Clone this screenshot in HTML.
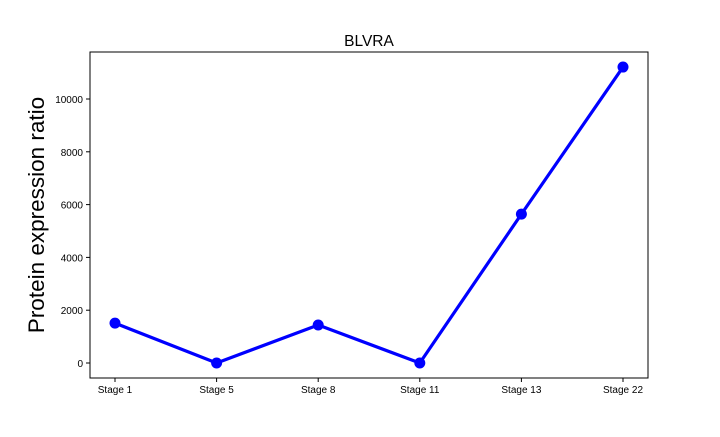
<!DOCTYPE html>
<html><head><meta charset="utf-8"><style>
body{margin:0;background:#fff;}
svg{font-family:"Liberation Sans","DejaVu Sans",sans-serif;}
</style></head><body>
<svg id="c" width="720" height="432"></svg>
<script>
const categories=["Stage 1","Stage 5","Stage 8","Stage 11","Stage 13","Stage 22"];
const values=[1510,0,1440,0,5640,11210];
const yTicks=[0,2000,4000,6000,8000,10000];
const NS="http://www.w3.org/2000/svg";
const svg=document.getElementById('c');
const L=90,R=648,T=52,B=378;
const x0=115,x1=623;
function xs(i){return x0+(x1-x0)*i/(categories.length-1);}
function ys(v){return 363-(v/2000)*52.8;}
function mk(t,a,txt){const e=document.createElementNS(NS,t);for(const k in a)e.setAttribute(k,a[k]);if(txt!==undefined)e.textContent=txt;svg.appendChild(e);return e;}
let f=mk('rect',{x:L,y:T,width:R-L,height:B-T,fill:'none',stroke:'#000','stroke-width':1});


yTicks.forEach(v=>{const y=ys(v);
let l=mk('line',{x1:L-4,x2:L,y1:y,y2:y,stroke:'#000'});


let t=mk('text',{x:L-7,y:y+4,'text-anchor':'end','font-size':10},String(v));

});
categories.forEach((c,i)=>{const x=xs(i);
let l=mk('line',{x1:x,x2:x,y1:B,y2:B+4,stroke:'#000'});


let t=mk('text',{x:x,y:B+15,'text-anchor':'middle','font-size':10},c);

});
let p=mk('polyline',{points:values.map((v,i)=>xs(i)+','+ys(v)).join(' '),fill:'none',stroke:'#0000ff','stroke-width':3.2,'stroke-linejoin':'round'});


values.forEach((v,i)=>{let c=mk('circle',{cx:xs(i),cy:ys(v),r:5.5,fill:'#0000ff'});

});
let ti=mk('text',{x:(L+R)/2,y:46,'text-anchor':'middle','font-size':15.5},'BLVRA');


let yl=mk('text',{x:44,y:215,'text-anchor':'middle','font-size':22.5,transform:'rotate(-90 44 215)'},'Protein expression ratio');


</script>
</body></html>
